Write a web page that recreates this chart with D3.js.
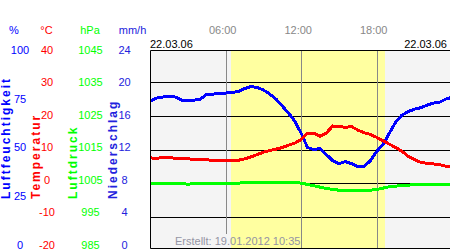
<!DOCTYPE html>
<html>
<head>
<meta charset="utf-8">
<script src="https://cdn.jsdelivr.net/npm/d3@7"></script>
<style>
  body { margin: 0; background: #fff; }
  text { font-family: Arial, "Liberation Sans", sans-serif; }
</style>
</head>
<body>
<div id="chart-area"></div>
<script>
// hours of the day (22.03.06), one reading every half hour
let times = [0, 0.5, 1, 1.5, 2, 2.5, 3, 3.5, 4, 4.5, 5, 5.5, 6, 6.5, 7, 7.5, 8, 8.5, 9, 9.5,
    10, 10.5, 11, 11.5, 12, 12.5, 13, 13.5, 14, 14.5, 15, 15.5, 16, 16.5, 17, 17.5, 18, 18.5,
    19, 19.5, 20, 20.5, 21, 21.5, 22, 22.5, 23, 23.5, 24];

// Luftfeuchtigkeit in %
let humidity = [74, 75.5, 76, 76.5, 76, 74.5, 74.5, 74.5, 75, 77.5, 77.5, 77.7, 78, 78.3, 78.8, 80.2,
    81.2, 80.8, 79.5, 77.5, 75, 71.5, 68, 64, 58, 51, 50, 50.5, 47.5, 44.5, 43, 44, 43, 41.5,
    41.5, 44.5, 49, 52.5, 58, 63.5, 67, 68.8, 70, 70.7, 72, 73, 73.5, 75, 76];

// Temperatur in °C
let temperature = [7.5, 7.4, 7.6, 7.6, 7.4, 7.3, 7.2, 7.1, 7.0, 6.9, 6.8, 6.8, 6.7, 6.7, 6.8, 7.2,
    7.8, 8.5, 9.2, 9.7, 10.1, 10.6, 11.3, 11.9, 13.0, 14.8, 14.9, 13.9, 14.9, 17.0, 16.9, 16.6,
    16.8, 15.8, 15.0, 14.5, 13.6, 12.6, 11.6, 10.6, 9.5, 8.0, 7.0, 6.2, 5.9, 5.7, 5.5, 5.0, 4.8];

// Luftdruck in hPa
let pressure = [1005.0, 1005.0, 1005.0, 1005.0, 1004.9, 1004.8, 1004.7, 1004.8, 1005.0, 1005.0,
    1005.0, 1005.0, 1005.0, 1004.9, 1005.0, 1005.1, 1005.1, 1005.2, 1005.3, 1005.3, 1005.3,
    1005.3, 1005.3, 1005.2, 1005.0, 1004.6, 1004.2, 1003.8, 1003.4, 1003.1, 1002.9, 1002.9,
    1002.8, 1002.8, 1002.8, 1002.9, 1003.1, 1003.5, 1003.9, 1004.1, 1004.3, 1004.4, 1004.5,
    1004.5, 1004.6, 1004.6, 1004.6, 1004.7, 1004.7];

// tick labels of the four left axes
let humTicks = [0, 25, 50, 75, 100];
let tempTicks = [-20, -10, 0, 10, 20, 30, 40];
let pressTicks = [985, 995, 1005, 1015, 1025, 1035, 1045];
let precTicks = [0, 4, 8, 12, 16, 20, 24];

let timeTicks = [6, 12, 18];
let timeLabels = ["06:00", "12:00", "18:00"];
let sunrise = 6.42, sunset = 18.66;   // daylight band
let dateStart = "22.03.06", dateEnd = "22.03.06";
let created = "Erstellt: 19.01.2012 10:35";

let width = 450, height = 250;
let frame = {left: 150.5, right: 450, top: 50.5, bottom: 248.5};

let blue = "#0000ff", red = "#ff0000", green = "#00ff00", navy = "#2222dd";

let svg = d3.select("#chart-area")
    .append("svg")
        .attr("width", width)
        .attr("height", height);

// scales: data goes on the grid, labels are squeezed a little inside the frame
let x = d3.scaleLinear().domain([0, 24]).range([150.2, 452.2]);
let yHum = d3.scaleLinear().domain([0, 100]).range([250.3, 48.7]);
let yTemp = d3.scaleLinear().domain([-20, 40]).range([250.3, 48.7]);
let yPress = d3.scaleLinear().domain([985, 1045]).range([250.3, 48.7]);

let labelHum = d3.scaleLinear().domain([0, 100]).range([245, 50]);
let labelTemp = d3.scaleLinear().domain([-20, 40]).range([245, 50]);
let labelPress = d3.scaleLinear().domain([985, 1045]).range([245, 50]);
let labelPrec = d3.scaleLinear().domain([0, 24]).range([245, 50]);

// backgrounds
svg.append("rect")
    .attr("x", frame.left)
    .attr("y", frame.top)
    .attr("width", frame.right - frame.left)
    .attr("height", frame.bottom - frame.top)
    .attr("fill", "#f4f4f4");

svg.append("rect")
    .attr("x", x(sunrise))
    .attr("y", frame.top)
    .attr("width", x(sunset) - x(sunrise))
    .attr("height", frame.bottom - frame.top)
    .attr("fill", "#ffffa0");

// horizontal grid
svg.selectAll(".hgrid")
    .data(tempTicks.slice(1, -1))
    .enter().append("line")
        .attr("class", "hgrid")
        .attr("x1", frame.left)
        .attr("x2", frame.right)
        .attr("y1", d => Math.round(yTemp(d)) + 0.5)
        .attr("y2", d => Math.round(yTemp(d)) + 0.5)
        .attr("stroke", "#000")
        .attr("stroke-width", 1);

// created text (drawn early so the time lines can stop above it)
let createdText = svg.append("text")
    .attr("x", 175)
    .attr("y", 245)
    .attr("font-size", "11px")
    .attr("fill", "#9494a4")
    .text(created);
let cb = createdText.node().getBBox();

// vertical time lines
svg.selectAll(".vgrid")
    .data(timeTicks)
    .enter().append("line")
        .attr("class", "vgrid")
        .attr("x1", d => Math.round(x(d)) + 0.5)
        .attr("x2", d => Math.round(x(d)) + 0.5)
        .attr("y1", frame.top)
        .attr("y2", d => (x(d) > cb.x && x(d) < cb.x + cb.width) ? cb.y - 1 : frame.bottom)
        .attr("stroke", "#888")
        .attr("stroke-width", 1);

// data lines
let idx = d3.range(times.length);
function drawLine(values, scale, colour) {
    let line = d3.line()
        .x(i => x(times[i]))
        .y(i => scale(values[i]));
    svg.append("path")
        .datum(idx)
        .attr("d", line)
        .attr("fill", "none")
        .attr("stroke", colour)
        .attr("stroke-width", 3)
        .attr("stroke-linejoin", "round")
        .attr("shape-rendering", "crispEdges");
}
drawLine(pressure, yPress, green);
drawLine(humidity, yHum, blue);
drawLine(temperature, yTemp, red);

// frame
svg.append("path")
    .attr("d", "M" + frame.right + "," + frame.top + "H" + frame.left + "V" + frame.bottom + "H" + frame.right)
    .attr("fill", "none")
    .attr("stroke", "#000")
    .attr("stroke-width", 1);

// time labels and dates
svg.selectAll(".tlabel")
    .data(timeTicks)
    .enter().append("text")
        .attr("class", "tlabel")
        .attr("x", d => x(d) - 3)
        .attr("y", 34)
        .attr("text-anchor", "middle")
        .attr("font-size", "11px")
        .attr("fill", "#888")
        .text((d, i) => timeLabels[i]);

svg.append("text")
    .attr("x", 150)
    .attr("y", 48)
    .attr("font-size", "11px")
    .attr("fill", "#000")
    .text(dateStart);

svg.append("text")
    .attr("x", 447)
    .attr("y", 48)
    .attr("text-anchor", "end")
    .attr("font-size", "11px")
    .attr("fill", "#000")
    .text(dateEnd);

// left axes: tick labels
function axisLabels(ticks, scale, cx, colour) {
    svg.append("g")
        .selectAll("text")
        .data(ticks)
        .enter().append("text")
            .attr("x", cx)
            .attr("y", d => scale(d))
            .attr("dy", "0.36em")
            .attr("text-anchor", "middle")
            .attr("font-size", "11px")
            .attr("fill", colour)
            .text(d => d);
}
axisLabels(humTicks, labelHum, 20, blue);
axisLabels(tempTicks, labelTemp, 47, red);
axisLabels(pressTicks, labelPress, 90.5, green);
axisLabels(precTicks, labelPrec, 124.5, navy);

// units
let units = [
    {t: "%", x: 14, c: blue},
    {t: "°C", x: 46.5, c: red},
    {t: "hPa", x: 90, c: green},
    {t: "mm/h", x: 132.5, c: navy}
];
svg.selectAll(".unit")
    .data(units)
    .enter().append("text")
        .attr("class", "unit")
        .attr("x", d => d.x)
        .attr("y", 34)
        .attr("text-anchor", "middle")
        .attr("font-size", "11px")
        .attr("fill", d => d.c)
        .text(d => d.t);

// rotated axis titles
let titles = [
    {t: "Luftfeuchtigkeit", x: 10, c: blue},
    {t: "Temperatur", x: 39.5, c: red},
    {t: "Luftdruck", x: 76.5, c: green},
    {t: "Niederschlag", x: 117, c: navy}
];
svg.selectAll(".title")
    .data(titles)
    .enter().append("text")
        .attr("class", "title")
        .attr("transform", d => "translate(" + d.x + ",199) rotate(-90)")
        .attr("font-size", "12px")
        .attr("font-weight", "bold")
        .attr("letter-spacing", "2px")
        .attr("fill", d => d.c)
        .text(d => d.t);
</script>
</body>
</html>
